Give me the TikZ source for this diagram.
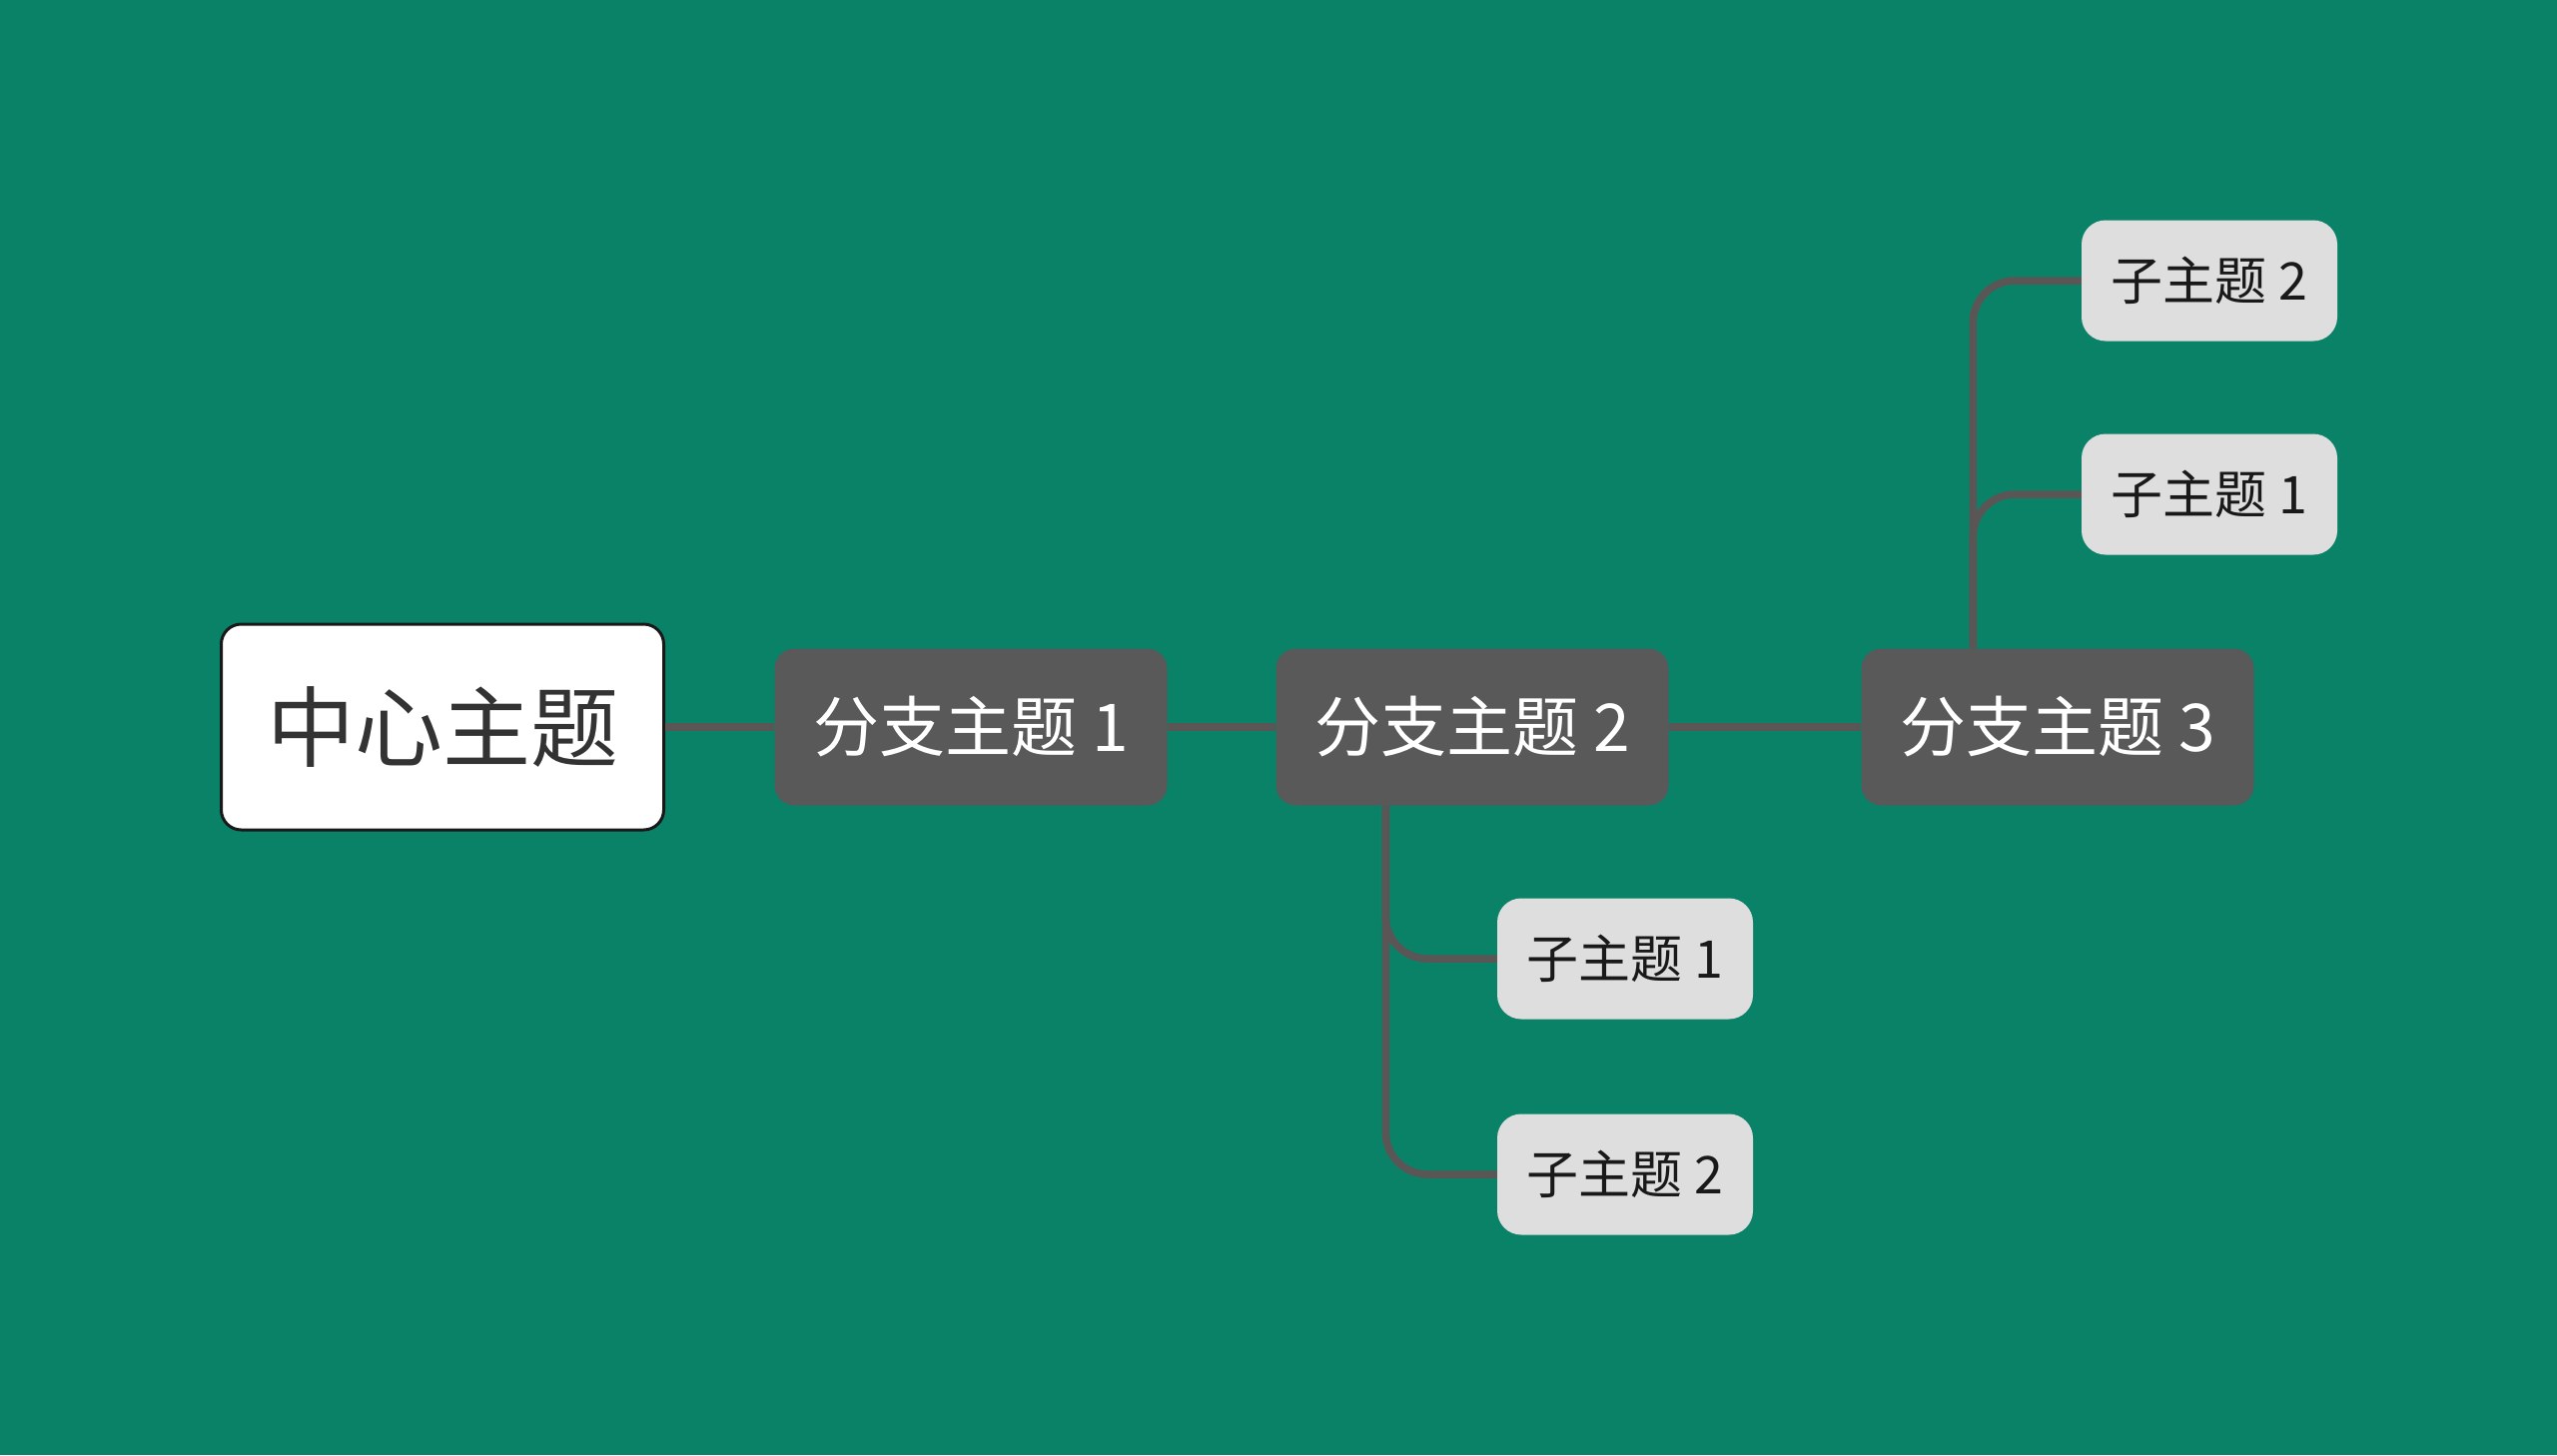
\documentclass[tikz,border=0pt]{standalone}
\usepackage{fontspec}
\setmainfont{Noto Sans CJK SC}
\definecolor{bg}{HTML}{0A8268}
\definecolor{branchfill}{HTML}{595959}
\definecolor{subfill}{HTML}{DEDEDE}
\definecolor{linecol}{HTML}{5A5656}
\begin{document}
\begin{tikzpicture}[x=1pt,y=1pt,
  central/.style={draw=black!90,line width=3pt,fill=white,rounded corners=20pt,
    minimum width=443pt,minimum height=206pt,inner sep=0pt,
    font=\fontsize{88}{100}\selectfont,text=black!80},
  branch/.style={fill=branchfill,rounded corners=20pt,minimum width=393pt,minimum height=157pt,
    inner sep=0pt,font=\fontsize{66}{76}\selectfont,text=white},
  subtopic/.style={fill=subfill,rounded corners=24pt,minimum width=256pt,minimum height=121pt,
    inner sep=0pt,font=\fontsize{52}{60}\selectfont,text=black!90},
  conn/.style={draw=linecol,line width=7.5pt},
  elbow/.style={conn,rounded corners=42pt}]
\fill[bg] (0,0) rectangle (2560,-1457);
\useasboundingbox (0,0) rectangle (2560,-1457);

\node[central] (c) at (443,-728) {中心主题};
\node[branch] (b1) at (972,-728) {分支主题 1};
\node[branch] (b2) at (1474,-728) {分支主题 2};
\node[branch] (b3) at (2060,-728) {分支主题 3};
\node[subtopic] (s32) at (2212,-281) {子主题 2};
\node[subtopic] (s31) at (2212,-495) {子主题 1};
\node[subtopic] (s21) at (1627,-960) {子主题 1};
\node[subtopic] (s22) at (1627,-1176) {子主题 2};

\coordinate (b2d) at ([xshift=110pt]b2.south west);
\coordinate (b3u) at ([xshift=112pt]b3.north west);

\draw[conn] (c.east) -- (b1.west);
\draw[conn] (b1.east) -- (b2.west);
\draw[conn] (b2.east) -- (b3.west);
\draw[elbow] (b2d) |- (s21.west);
\draw[elbow] (b2d) |- (s22.west);
\draw[elbow] (b3u) |- (s31.west);
\draw[elbow] (b3u) |- (s32.west);
\end{tikzpicture}
\end{document}
